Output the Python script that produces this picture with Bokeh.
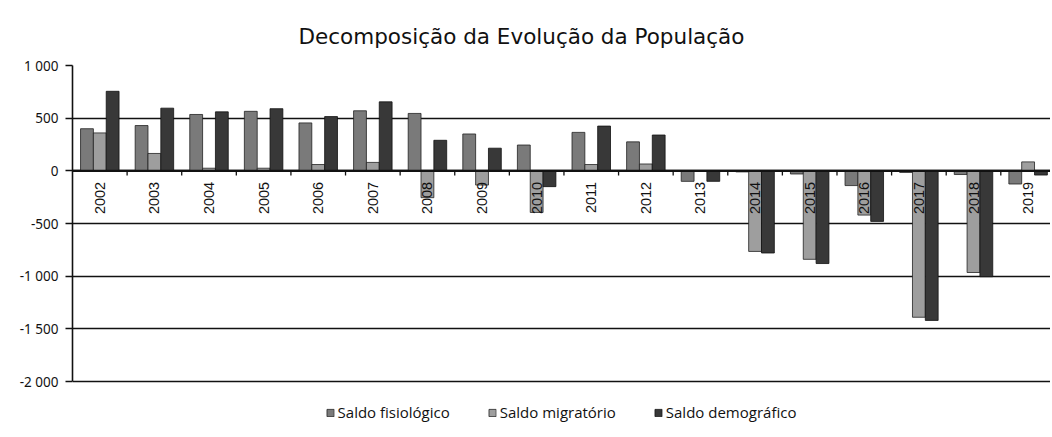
from bokeh.plotting import figure
from bokeh.models import Range1d, FixedTicker, Legend, LegendItem, ColumnDataSource
from bokeh.transform import dodge
from bokeh.core.properties import value
from bokeh.embed import file_html
from bokeh.resources import INLINE
import math

years = [2002, 2003, 2004, 2005, 2006, 2007, 2008, 2009, 2010, 2011,
         2012, 2013, 2014, 2015, 2016, 2017, 2018, 2019]
saldo_fisiologico = [400, 430, 535, 565, 455, 570, 545, 350, 245, 365,
                     275, -100, -10, -30, -140, -15, -35, -125]
saldo_migratorio = [360, 165, 25, 25, 60, 80, -255, -135, -395, 60,
                    65, -5, -765, -840, -420, -1390, -965, 85]
saldo_demografico = [755, 595, 560, 590, 515, 655, 290, 215, -150, 425,
                     340, -100, -780, -880, -480, -1420, -1005, -40]
y_ticks = [-2000, -1500, -1000, -500, 0, 500, 1000]
y_tick_labels = ["-2 000", "-1 500", "-1 000", "-500", "0", "500", "1 000"]
series_names = ["Saldo fisiológico", "Saldo migratório", "Saldo demográfico"]
title_text = "Decomposição da Evolução da População"

src = ColumnDataSource(dict(
    year=years,
    label=[str(y) for y in years],
    fis=saldo_fisiologico,
    mig=saldo_migratorio,
    dem=saldo_demografico,
    zero=[0] * len(years),
    boundary=[y + 0.5 for y in years],
))

p = figure(width=1050, height=436, output_backend="svg", toolbar_location=None,
           x_range=Range1d(years[0] - 0.5, years[-1] + 0.41),
           y_range=Range1d(-2484, 1000),
           x_axis_location=None,
           min_border_left=72, min_border_right=0, min_border_top=65,
           min_border_bottom=4,
           title=title_text)
p.title.align = "left"
p.title.offset = 226
p.title.text_font = "DejaVu Sans"
p.title.text_font_size = "21.5px"
p.title.text_font_style = "normal"
p.title.text_color = "#111111"
p.title.standoff = 33

p.outline_line_color = None
p.background_fill_color = "white"

# grid
p.xgrid.visible = False
p.ygrid.ticker = FixedTicker(ticks=y_ticks)
p.ygrid.grid_line_color = "#111111"
p.ygrid.grid_line_width = 1.7

# axes
p.yaxis.ticker = FixedTicker(ticks=y_ticks)
p.yaxis.bounds = (y_ticks[0], y_ticks[-1])
p.yaxis.major_label_overrides = {t_: l for t_, l in zip(y_ticks, y_tick_labels)}
p.yaxis.axis_line_color = "#111111"
p.yaxis.axis_line_width = 1.6
p.yaxis.major_tick_out = 7
p.yaxis.major_tick_in = 0
p.yaxis.minor_tick_line_color = None
p.yaxis.major_tick_line_color = "#111111"
p.yaxis.major_tick_line_width = 1.3
p.yaxis.major_label_standoff = 7
p.yaxis.major_label_text_font = "Noto Sans"
p.yaxis.major_label_text_font_size = "13.5px"
p.yaxis.major_label_text_color = "#111111"

w = 0.235
colors = ["#7a7a7a", "#9e9e9e", "#383838"]
r1 = p.vbar(x=dodge("year", -w, range=p.x_range), top="fis", width=w, source=src,
            fill_color=colors[0], line_color="#222222", line_width=0.8)
r2 = p.vbar(x=dodge("year", 0, range=p.x_range), top="mig", width=w, source=src,
            fill_color=colors[1], line_color="#222222", line_width=0.8)
r3 = p.vbar(x=dodge("year", w, range=p.x_range), top="dem", width=w, source=src,
            fill_color=colors[2], line_color="#111111", line_width=0.8)

# category axis at zero
p.segment(x0=years[0] - 0.5, x1=years[-1] + 0.5, y0=0, y1=0,
          line_color="#111111", line_width=2.2)
p.segment(x0="boundary", x1="boundary", y0="zero", y1=-45, source=src,
          line_color="#111111", line_width=1.3)
p.text(x="year", y="zero", text="label", source=src, angle=math.pi / 2,
       text_align="right", text_baseline="middle", y_offset=11,
       text_font=value("Liberation Sans"), text_font_size="14.5px", text_color="#111111")

legend = Legend(items=[LegendItem(label=series_names[0], renderers=[r1]),
                       LegendItem(label=series_names[1], renderers=[r2]),
                       LegendItem(label=series_names[2], renderers=[r3])],
                orientation="horizontal", location="bottom_center",
                border_line_color=None, background_fill_alpha=0,
                glyph_width=9, glyph_height=9, spacing=38, label_standoff=3,
                label_text_font="Open Sans", label_text_font_size="15px",
                label_text_color="#111111", padding=4, margin=10)
p.add_layout(legend, "center")

open("out.html", "w").write(file_html(p, INLINE))
